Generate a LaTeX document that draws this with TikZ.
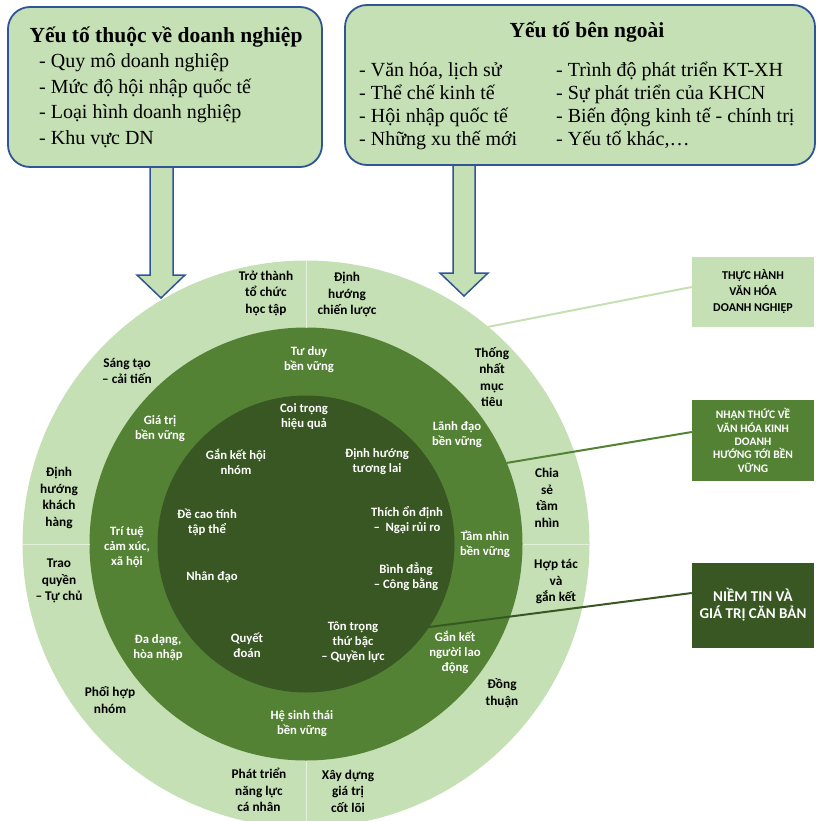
\documentclass[tikz,border=0pt]{standalone}
\usepackage{fontspec}
\setmainfont{Liberation Serif}
\newfontfamily\calfont{Carlito}
\definecolor{lg}{HTML}{C5E0B4}
\definecolor{mg}{HTML}{548235}
\definecolor{dg}{HTML}{385723}
\definecolor{bb}{HTML}{2F5597}
\definecolor{dv}{HTML}{E4F0DC}
\tikzset{
  ring/.style={circle,inner sep=0pt,outer sep=0pt},
  divline/.style={draw=dv,line width=1pt},
  otxt/.style={font=\calfont\bfseries\fontsize{13.3}{16.5}\selectfont,align=center,text=black,inner sep=0pt},
  wtxt/.style={font=\calfont\bfseries\fontsize{12.7}{15}\selectfont,align=center,text=white,inner sep=0pt},
  topbox/.style={draw=bb,line width=1.8pt,fill=lg,rounded corners=22pt,inner sep=0pt},
  blockarrow/.style={draw=bb,line width=1.5pt,fill=lg,line join=miter},
  ttl/.style={font=\bfseries\fontsize{21.5}{25}\selectfont,anchor=base,inner sep=0pt},
  itm/.style={font=\fontsize{20}{24}\selectfont,anchor=base west,inner sep=0pt},
  sidebox/.style={rectangle,minimum width=122pt,inner sep=0pt,align=center},
}
\begin{document}
\begin{tikzpicture}[x=1pt,y=-1pt]
\useasboundingbox (0,0) rectangle (817,821);
\clip (0,0) rectangle (817,821);
% rings
\node[ring,fill=lg,minimum size=567pt] (outer) at (306,544) {};
\node[ring,fill=mg,minimum size=433pt] (middle) at (306,544) {};
\node[ring,fill=dg,minimum size=297pt] (inner) at (306,544) {};
% dividers in outer ring
\draw[divline] (outer.north) -- (middle.north);
\draw[divline] (outer.south) -- (middle.south);
\draw[divline] (outer.west) -- (middle.west);
\draw[divline] (outer.east) -- (middle.east);
% side boxes
\node[sidebox,fill=lg,minimum height=70pt,text=black,font=\calfont\bfseries\fontsize{12}{16}\selectfont] (b1) at (753,292) {THỰC HÀNH\\VĂN HÓA\\DOANH NGHIỆP};
\node[sidebox,fill=mg,minimum height=81pt,text=white,font=\calfont\bfseries\fontsize{11.5}{13.3}\selectfont] (b2) at (753,440.5) {NHẬN THỨC VỀ\\VĂN HÓA KINH\\DOANH\\HƯỚNG TỚI BỀN\\VỮNG};
\node[sidebox,fill=dg,minimum height=85pt,text=white,font=\calfont\bfseries\fontsize{15}{17}\selectfont] (b3) at (753,605) {NIỀM TIN VÀ\\GIÁ TRỊ CĂN BẢN};
% connectors
\draw[draw=lg,line width=2pt] (outer.50) -- ([yshift=5pt]b1.west);
\draw[draw=mg,line width=2pt] (middle.22) -- ([yshift=8.5pt]b2.west);
\draw[draw=dg,line width=2pt] (inner.-34) -- ([yshift=12pt]b3.west);
% block arrows
\draw[blockarrow] (150,160) -- (150,275) -- (137,275) -- (161,298) -- (185,275) -- (173,275) -- (173,160) -- cycle;
\draw[blockarrow] (453,160) -- (453,273) -- (440,273) -- (464,296) -- (488,273) -- (475,273) -- (475,160) -- cycle;
% top boxes
\node[topbox,minimum width=314pt,minimum height=160pt] (tl) at (165,87) {};
\node[topbox,minimum width=470pt,minimum height=160pt] (tr) at (580,85) {};
\node[ttl] (tlt) at (166,43) {Yếu tố thuộc về doanh nghiệp};
\node[itm] (l1) at (39,68) {- Quy mô doanh nghiệp};
\node[itm] (l2) at (39,93.5) {- Mức độ hội nhập quốc tế};
\node[itm] (l3) at (39,119) {- Loại hình doanh nghiệp};
\node[itm] (l4) at (39,145) {- Khu vực DN};
\node[ttl] (trt) at (587,38) {Yếu tố bên ngoài};
\node[itm] (r1) at (359,77) {- Văn hóa, lịch sử};
\node[itm] (r2) at (359,100) {- Thể chế kinh tế};
\node[itm] (r3) at (359,123) {- Hội nhập quốc tế};
\node[itm] (r4) at (359,146) {- Những xu thế mới};
\node[itm] (r5) at (556,77) {- Trình độ phát triển KT-XH};
\node[itm] (r6) at (556,100) {- Sự phát triển của KHCN};
\node[itm] (r7) at (556,123) {- Biến động kinh tế - chính trị};
\node[itm] (r8) at (556,146) {- Yếu tố khác,…};
% outer ring labels
\node[otxt] (o1) at (266,293) {Trở thành\\tổ chức\\học tập};
\node[otxt] (o2) at (347,295) {Định\\hướng\\chiến lược};
\node[otxt] (o3) at (492,377) {Thống\\nhất\\mục\\tiêu};
\node[otxt] (o4) at (547,498) {Chia\\sẻ\\tầm\\nhìn};
\node[otxt] (o5) at (556,582) {Hợp tác\\và\\gắn kết};
\node[otxt] (o6) at (502,693) {Đồng\\thuận};
\node[otxt] (o7) at (348,791) {Xây dựng\\giá trị\\cốt lõi};
\node[otxt] (o8) at (259,790) {Phát triển\\năng lực\\cá nhân};
\node[otxt] (o9) at (110,700) {Phối hợp\\nhóm};
\node[otxt] (o10) at (59,581) {Trao\\quyền\\– Tự chủ};
\node[otxt] (o11) at (59,498) {Định\\hướng\\khách\\hàng};
\node[otxt] (o12) at (127,371) {Sáng tạo\\– cải tiến};
% middle ring labels
\node[wtxt] (m1) at (309,360) {Tư duy\\bền vững};
\node[wtxt] (m2) at (457,435) {Lãnh đạo\\bền vững};
\node[wtxt] (m3) at (485,544) {Tầm nhìn\\bền vững};
\node[wtxt] (m4) at (455,652) {Gắn kết\\người lao\\động};
\node[wtxt] (m5) at (302,724) {Hệ sinh thái\\bền vững};
\node[wtxt] (m6) at (158,648) {Đa dạng,\\hòa nhập};
\node[wtxt] (m7) at (127,547) {Trí tuệ\\cảm xúc,\\xã hội};
\node[wtxt] (m8) at (160,429) {Giá trị\\bền vững};
% inner labels
\node[wtxt] (i1) at (304,417) {Coi trọng\\hiệu quả};
\node[wtxt] (i2) at (377,462) {Định hướng\\tương lai};
\node[wtxt] (i3) at (407,520) {Thích ổn định\\–\ \ Ngại rủi ro};
\node[wtxt] (i4) at (406,577) {Bình đẳng\\– Công bằng};
\node[wtxt] (i5) at (353,642) {Tôn trọng\\thứ bậc\\– Quyền lực};
\node[wtxt] (i6) at (247,645) {Quyết\\đoán};
\node[wtxt] (i7) at (212,577) {Nhân đạo};
\node[wtxt] (i8) at (207,522) {Đề cao tính\\tập thể};
\node[wtxt] (i9) at (236,462) {Gắn kết hội\\nhóm};
\end{tikzpicture}
\end{document}
